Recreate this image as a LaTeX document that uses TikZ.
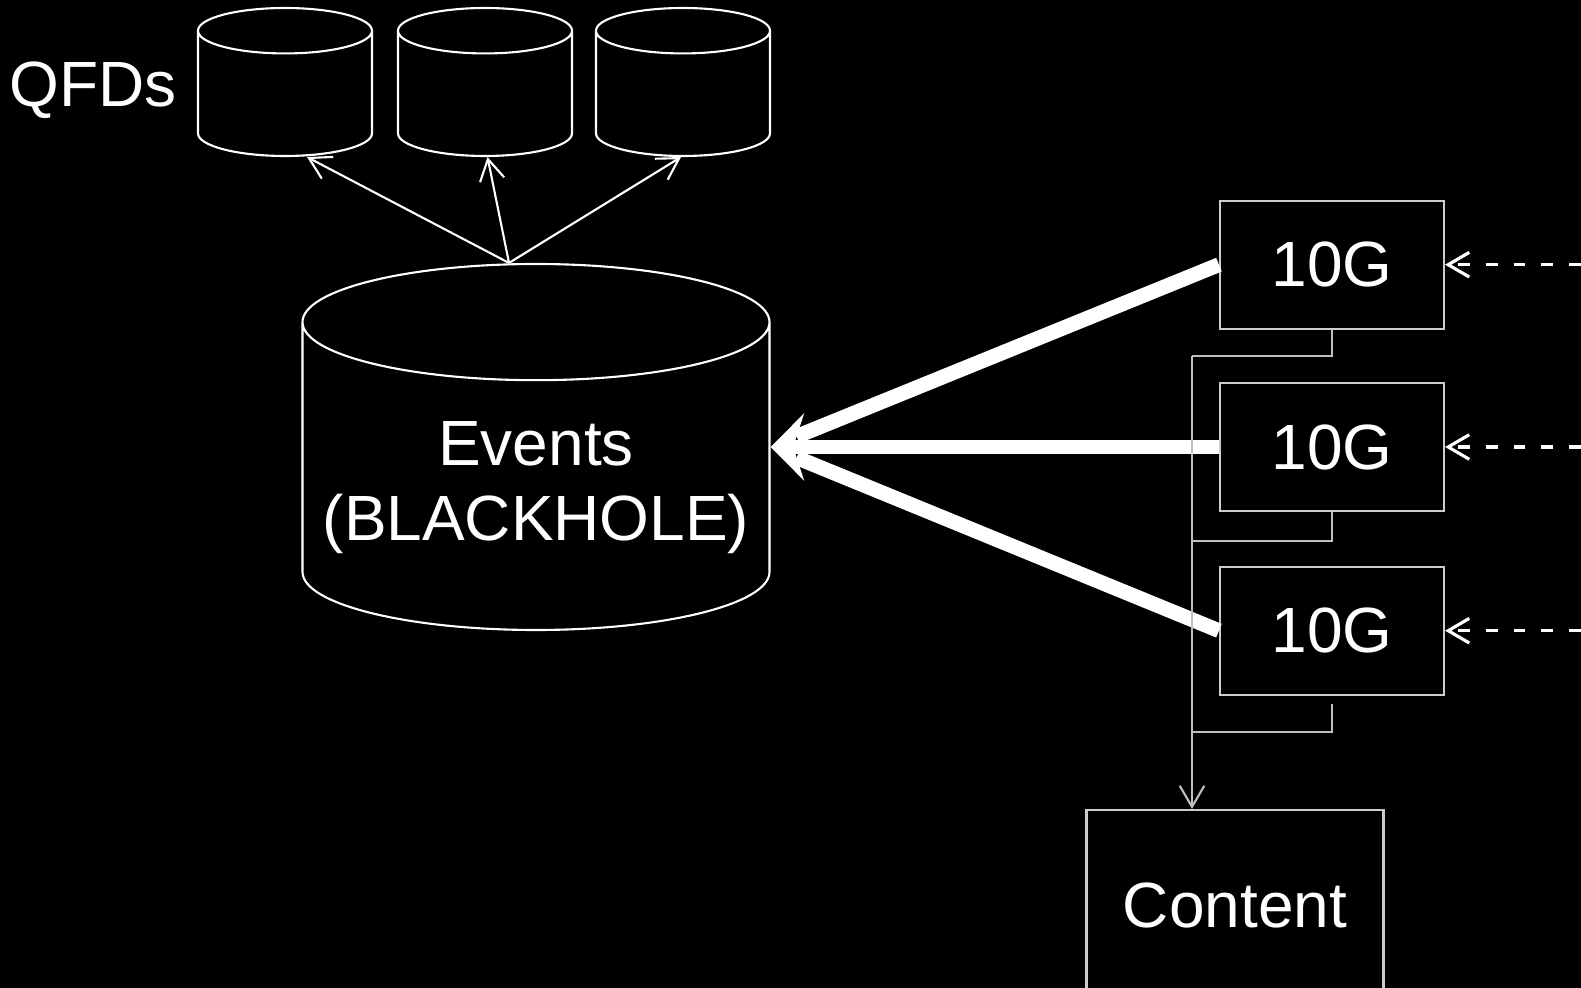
\documentclass[tikz,border=0pt]{standalone}
\usepackage{fontspec}
\setmainfont{Liberation Sans}
\usetikzlibrary{shapes.geometric,arrows.meta,positioning}
\begin{document}
\begin{tikzpicture}[font=\fontsize{18.2}{21.3}\selectfont, text=white,
  >={Straight Barb[length=6pt,width=7pt]},
  db/.style={cylinder, shape border rotate=90, aspect=1.94, anchor=shape center, draw=white, line width=0.6pt, minimum width=1.74cm, minimum height=1.48cm},
  port/.style={rectangle, draw=white!80!black, line width=0.6pt, minimum width=2.24cm, minimum height=1.28cm},
  fat/.style={white, line width=4.2pt},
  feed/.style={white, line width=0.9pt, dash pattern=on 3.4pt off 4.5pt},
  bus/.style={white!75!black, line width=0.6pt}]
\path [use as bounding box, fill=black] (0,0) rectangle (15.81,-9.88);

\node [db] (q1) at (2.85,-0.82) {};
\node [db] (q2) at (4.85,-0.82) {};
\node [db] (q3) at (6.83,-0.82) {};
\node (qfds) at (0.93,-0.9) {QFDs};

\node [db, aspect=4.96, minimum width=4.67cm, minimum height=3.66cm] (events) at (5.36,-4.47) {};
\node [align=center] (evtext) at (5.36,-4.88) {Events\\(BLACKHOLE)};
\coordinate (evin) at (events.shape center -| events.east);

\draw [->, white, line width=0.6pt] ([xshift=-0.27cm]events.north) -- ([xshift=0.22cm]q1.south);
\draw [->, white, line width=0.6pt] ([xshift=-0.27cm]events.north) -- ([xshift=0.025cm]q2.south);
\draw [->, white, line width=0.6pt] ([xshift=-0.27cm]events.north) -- ([xshift=-0.02cm]q3.south);

\node [port] (p1) at (13.32,-2.647) {10G};
\node [port] (p2) at (13.32,-4.47) {10G};
\node [port] (p3) at (13.32,-6.307) {10G};

\coordinate (in1) at (15.81,-2.647);
\coordinate (in2) at (15.81,-4.47);
\coordinate (in3) at (15.81,-6.307);
\draw [feed, ->] (in1) -- (p1.east);
\draw [feed, ->] (in2) -- (p2.east);
\draw [feed, ->] (in3) -- (p3.east);

\draw [fat, shorten >=8pt] (p1.west) -- (evin);
\draw [fat, shorten >=8pt] (p3.west) -- (evin);
\draw [fat, -{Stealth[length=9.5pt,width=19pt]}] (p2.west) -- (evin);

\node [port, minimum width=2.97cm, minimum height=1.9cm] (content) at (12.35,-9.05) {Content};

\coordinate (j1) at (11.92,-3.56);
\coordinate (j2) at (11.92,-5.41);
\coordinate (j3) at (11.92,-7.32);
\draw [bus] (p1.south) |- (j1);
\draw [bus] (p2.south) |- (j2);
\draw [bus, shorten <=0.08cm] (p3.south) |- (j3);
\draw [bus, ->] (j1) -- (j1 |- content.north);
\end{tikzpicture}
\end{document}
